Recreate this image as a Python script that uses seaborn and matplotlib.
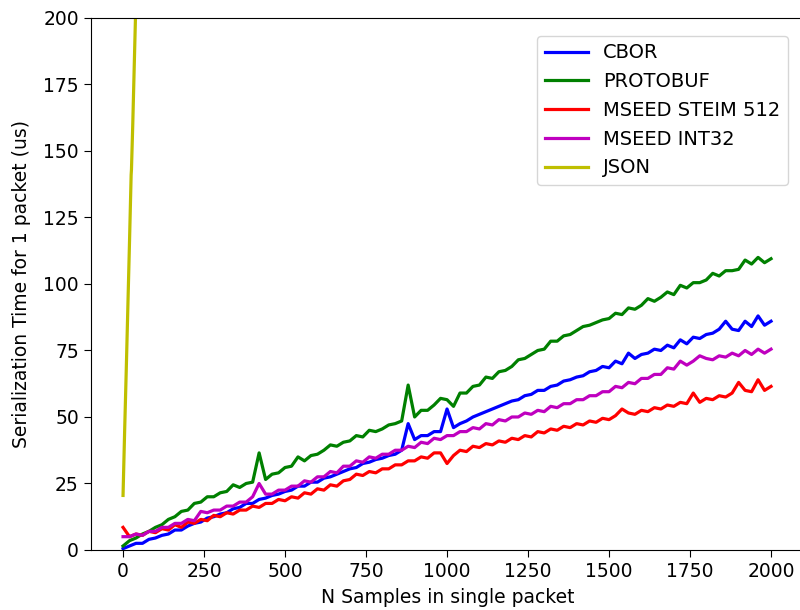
import numpy as np
import pandas as pd
import seaborn as sns
import matplotlib.pyplot as plt

# packet sizes, read every 20 samples
n_samples = list(range(0, 2001, 20))

cbor = [0.5, 1.5, 2.5, 2.5, 4, 4.5, 5.5, 6, 7.5, 7.5,
        9, 10, 10.5, 12, 12.5, 13.5, 14, 15.5, 16, 17.5,
        17.5, 19, 19.5, 20.5, 21, 22, 22.5, 24, 24, 25.5,
        25.5, 27, 27.5, 28.5, 29.5, 30.5, 31, 32.5, 33, 34,
        34.5, 35.5, 36, 37.5, 47.5, 41.5, 43, 43, 44.5, 44.5,
        53, 46, 47.5, 48.5, 50, 51, 52, 53, 54, 55,
        56, 56.5, 58, 58.5, 60, 60, 61.5, 62, 63.5, 64,
        65, 65.5, 67, 67.5, 69, 68.5, 71, 70, 74, 72,
        73.5, 74, 75.5, 75, 77, 76, 79, 77.5, 80, 79.5,
        81, 81.5, 83, 86, 83, 82.5, 86, 84, 88, 84.5,
        86]

protobuf = [1.5, 3.5, 4.5, 6, 7, 8.5, 9.5, 11.5, 12.5, 14.5,
            15, 17.5, 18, 20, 20, 21.5, 22, 24.5, 23.5, 25,
            25.5, 36.5, 26.5, 28.5, 29, 31, 31.5, 35, 33.5, 35.5,
            36, 37.5, 39.5, 39, 40.5, 41, 43, 42.5, 45, 44.5,
            45.5, 47, 47.5, 48.5, 62, 50, 52.5, 52.5, 54.5, 57,
            56.5, 54, 59, 59, 61.5, 62, 65, 64.5, 67, 67.5,
            69, 71.5, 72, 73.5, 75, 75.5, 78.5, 78.5, 80.5, 81,
            82.5, 84, 84.5, 85.5, 86.5, 87, 89, 88.5, 91, 90.5,
            92, 94.5, 93.5, 95, 97, 96, 99.5, 98.5, 100.5, 100.5,
            101.5, 104, 103, 105, 105, 105.5, 109, 107.5, 110, 108,
            109.5]

mseed_steim = [8.5, 5, 6, 5.5, 7, 6.5, 8, 7.5, 9.5, 8.5,
               10.5, 10, 11.5, 11, 13, 12.5, 14, 13.5, 15, 15,
               16.5, 16, 17.5, 17.5, 19, 18.5, 20, 19.5, 21.5, 21,
               23, 22.5, 24.5, 24, 26, 26.5, 28.5, 28, 29.5, 29,
               30.5, 30.5, 32, 32, 33.5, 33.5, 35, 34.5, 36.5, 36.5,
               32.5, 35.5, 37.5, 37, 39, 38.5, 40, 39.5, 41, 40.5,
               42, 41.5, 43, 42.5, 44.5, 44, 45.5, 45, 46.5, 46,
               47.5, 47, 48.5, 48, 49.5, 49, 50.5, 53, 51.5, 51,
               52.5, 52, 53.5, 53, 54.5, 54, 55.5, 55, 59, 55.5,
               57, 56.5, 58, 57.5, 59, 63, 60, 59.5, 64, 60,
               61.5]

mseed_int32 = [5, 5, 6, 5.5, 7, 7, 8.5, 8.5, 10, 10,
               11.5, 11, 14.5, 14, 15, 15, 16.5, 16.5, 18, 18,
               20, 25, 21, 21, 22.5, 22.5, 24, 24, 26, 25.5,
               27.5, 27.5, 29.5, 29, 31.5, 31.5, 33.5, 33, 35, 34.5,
               36, 36, 37.5, 37.5, 39, 38.5, 40.5, 40, 42, 41.5,
               43, 43, 44.5, 44.5, 46, 45.5, 47.5, 47, 49, 48.5,
               50, 50, 51.5, 51, 52.5, 52, 54, 53.5, 55, 55,
               56.5, 56.5, 58, 58, 59.5, 59.5, 61.5, 61, 63, 62.5,
               64.5, 64.5, 66, 66, 68.5, 68, 71, 69.5, 71, 73,
               72, 71.5, 73, 72.5, 74, 73, 75, 73.5, 75.5, 74,
               75.5]

json_n = [0, 5, 10, 15, 20, 25, 26, 30, 35, 40]
json_us = [20.5, 45, 68, 92, 116, 141, 143, 160, 184, 208]

order = ['CBOR', 'PROTOBUF', 'MSEED STEIM 512', 'MSEED INT32', 'JSON']
colors = {'CBOR': 'b', 'PROTOBUF': 'g', 'MSEED STEIM 512': 'r',
          'MSEED INT32': 'm', 'JSON': 'y'}

frames = []
for name, xs, ys in [('CBOR', n_samples, cbor),
                     ('PROTOBUF', n_samples, protobuf),
                     ('MSEED STEIM 512', n_samples, mseed_steim),
                     ('MSEED INT32', n_samples, mseed_int32),
                     ('JSON', json_n, json_us)]:
    frames.append(pd.DataFrame({'N': xs, 'us': ys, 'format': name}))
df = pd.concat(frames, ignore_index=True)

fig = plt.figure(figsize=(8, 6.1), dpi=100)
ax = fig.add_axes([0.1133, 0.0984, 0.893, 0.8721])

sns.lineplot(data=df, x='N', y='us', hue='format', hue_order=order,
             palette=colors, estimator=None, linewidth=2.3, ax=ax)

ax.set_xlim(-100, 2105)
ax.set_ylim(0, 200)
ax.set_xticks(np.arange(0, 2001, 250))
ax.set_yticks(np.arange(0, 201, 25))
ax.tick_params(labelsize=13.5, length=5)
ax.set_xlabel('N Samples in single packet', fontsize=13.5, labelpad=5)
ax.set_ylabel('Serialization Time for 1 packet (us)', fontsize=13.5, labelpad=9)
ax.legend(loc='upper right', fontsize=14, handlelength=2.2,
          bbox_to_anchor=(0.99, 0.985))

fig.savefig('out.png', dpi=100)
